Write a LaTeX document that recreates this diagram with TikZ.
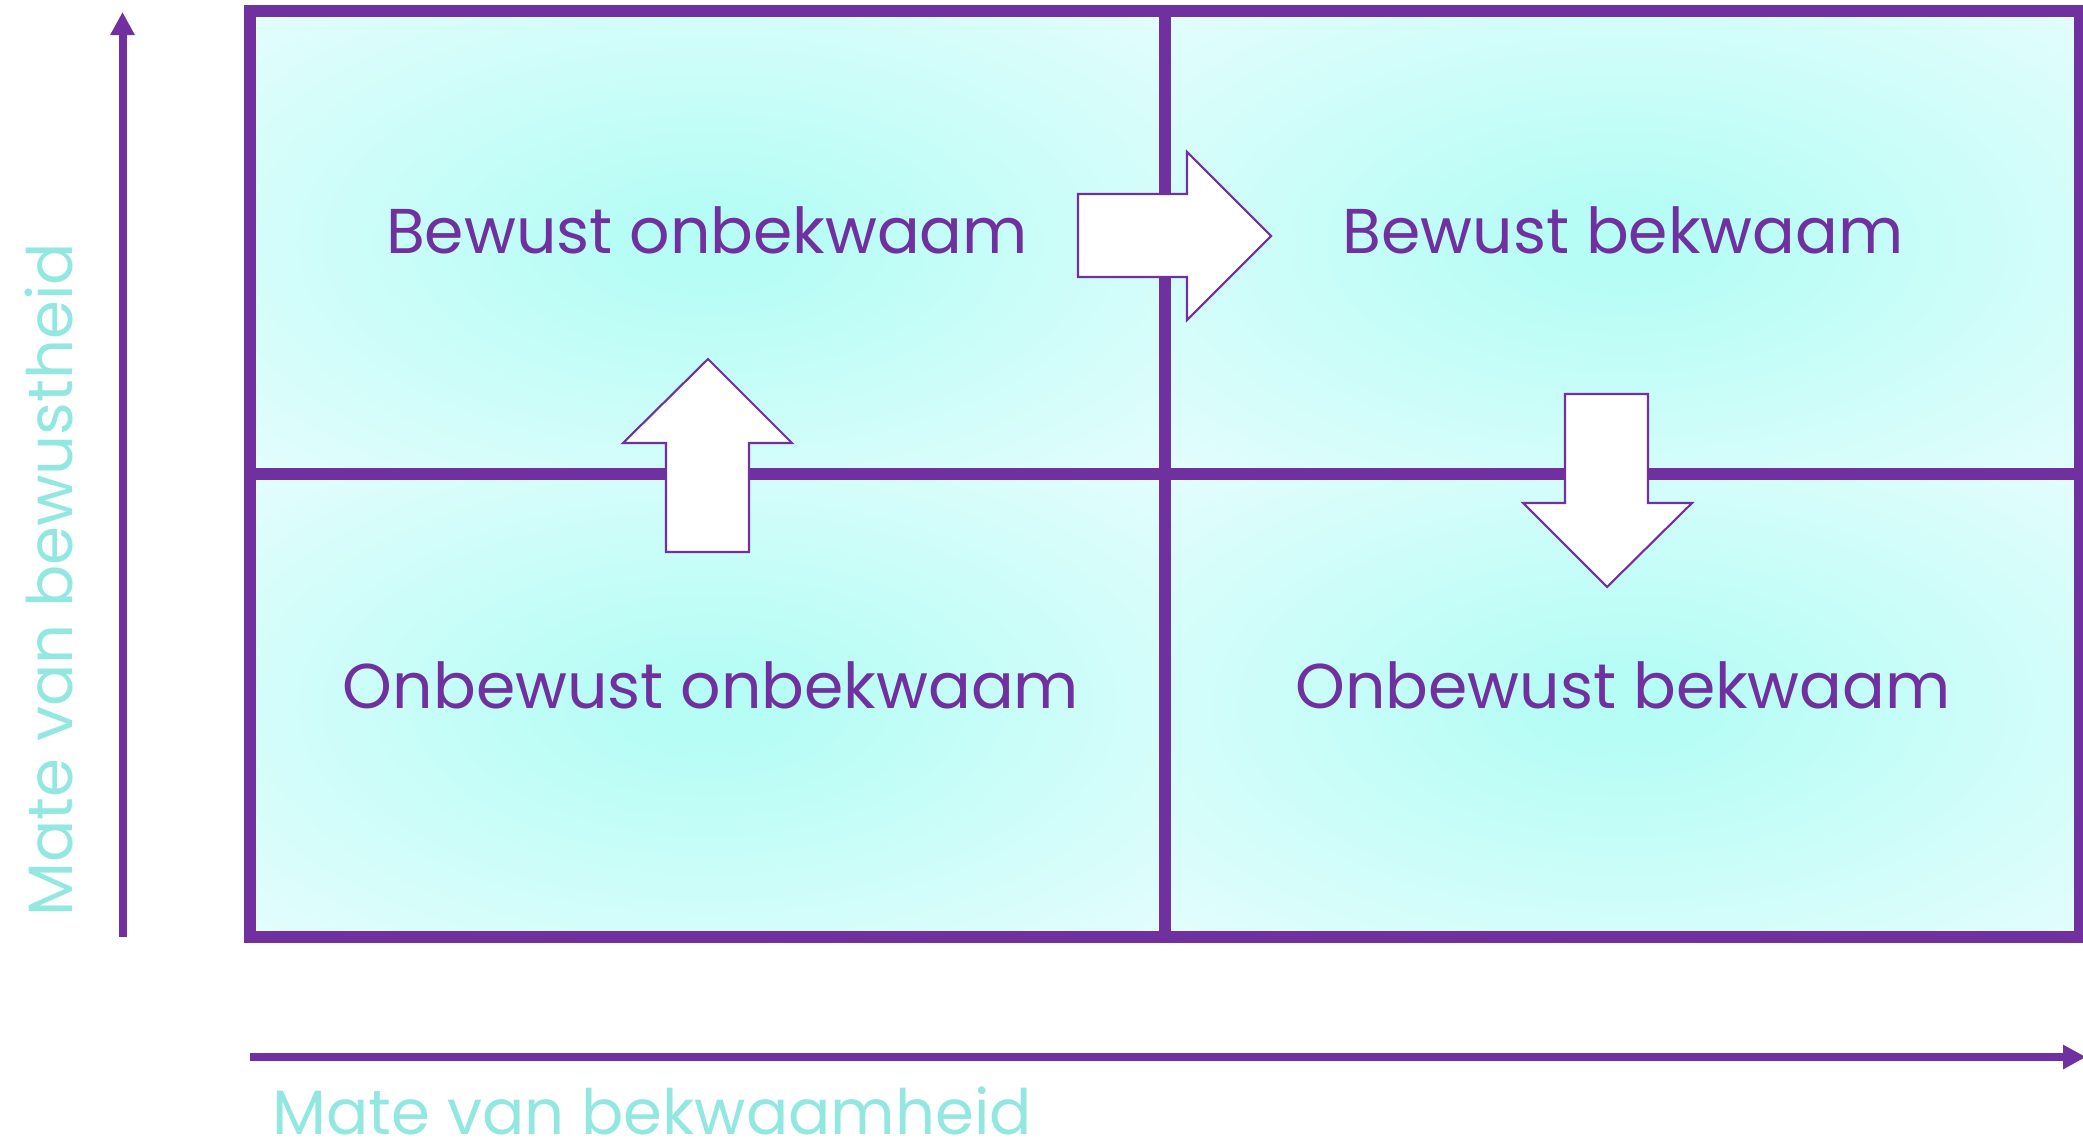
\documentclass[tikz,border=0pt]{standalone}
\usepackage{fontspec}
\setmainfont{Poppins}
\usetikzlibrary{arrows.meta}
\definecolor{purp}{RGB}{112,48,160}
\definecolor{axlbl}{RGB}{146,232,224}
\definecolor{cin}{RGB}{182,253,245}
\definecolor{cout}{RGB}{228,253,253}
\pgfdeclareradialshading{quadshade}{\pgfpoint{0bp}{0bp}}{color(0bp)=(cin); color(4bp)=(cin); color(36bp)=(cout); color(50bp)=(cout)}
\tikzset{
  grid/.style={draw=purp, line width=0.12cm},
  quadfill/.style={shading=quadshade},
  blockarrow/.style={draw=purp, fill=white, line width=0.6pt, line join=miter},
  qtext/.style={text=purp, font=\fontsize{18}{22}\selectfont, inner sep=0pt},
  axtext/.style={text=axlbl, font=\fontsize{17.8}{22}\selectfont, inner sep=0pt},
  axis/.style={draw=purp, line width=0.08cm, -{Triangle[length=0.23cm,width=0.23cm]}}
}
\begin{document}
\begin{tikzpicture}[x=0.01cm, y=-0.01cm]
\useasboundingbox (0,0) rectangle (2083,1142);
% quadrant fills
\path[quadfill] (250,11) rectangle (1165,474);
\path[quadfill] (1165,11) rectangle (2080,474);
\path[quadfill] (250,474) rectangle (1165,937);
\path[quadfill] (1165,474) rectangle (2080,937);
% grid
\draw[grid] (250,11) rectangle (2080,937);
\draw[grid] (1165,11) -- (1165,937);
\draw[grid] (250,474) -- (2080,474);
% axes
\coordinate (yorig) at (122.5,937);
\coordinate (ytop) at (122.5,12);
\coordinate (xorig) at (250,1057);
\coordinate (xend) at (2086,1057);
\draw[axis] (yorig) -- (ytop);
\draw[axis] (xorig) -- (xend);
% quadrant texts
\node[qtext] (bo) at (707,230) {Bewust onbekwaam};
\node[qtext] (bb) at (1623,230) {Bewust bekwaam};
\node[qtext] (oo) at (711,685) {Onbewust onbekwaam};
\node[qtext] (ob) at (1623,685) {Onbewust bekwaam};
% block arrows
\draw[blockarrow] (1078,194) -- (1187,194) -- (1187,152) -- (1271,236) -- (1187,320) -- (1187,277) -- (1078,277) -- cycle;
\draw[blockarrow] (666,552) -- (666,443) -- (623,443) -- (708,359) -- (792,443) -- (749,443) -- (749,552) -- cycle;
\draw[blockarrow] (1565,394) -- (1648,394) -- (1648,503) -- (1692,503) -- (1607,587) -- (1523,503) -- (1565,503) -- cycle;
% axis labels
\node[axtext, anchor=base west] (xl) at (272,1134) {Mate van bekwaamheid};
\node[axtext, anchor=base west, rotate=90] (yl) at (72,917) {Mate van bewustheid};
\end{tikzpicture}
\end{document}
